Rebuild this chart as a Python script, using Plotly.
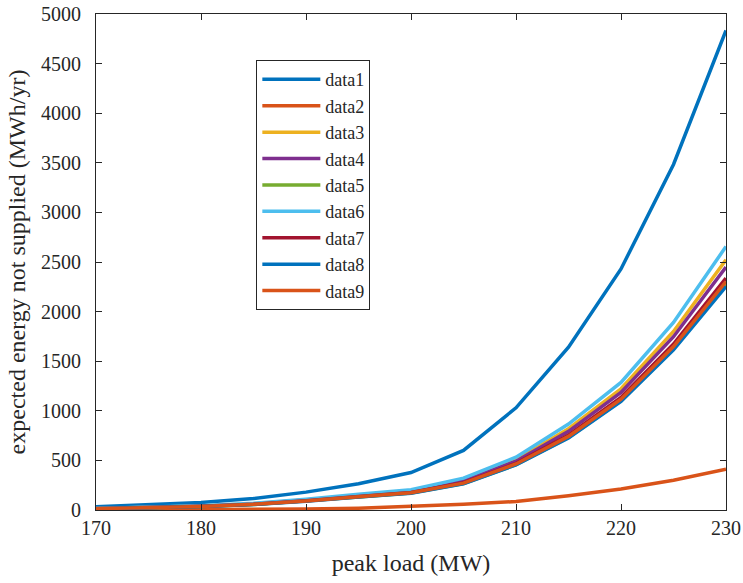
import plotly.graph_objects as go

peak_load = [170, 175, 180, 185, 190, 195, 200, 205, 210, 215, 220, 225, 230]

data1 = [32, 50, 75, 115, 180, 265, 378, 600, 1030, 1642, 2430, 3483, 4834]
data2 = [1, 2, 3, 5, 9, 18, 35, 58, 86, 143, 211, 300, 410]
data3 = [15, 24, 41, 63, 101, 148, 193, 303, 507, 820, 1222, 1800, 2522]
data4 = [14, 23, 39, 61, 98, 143, 187, 292, 492, 793, 1186, 1747, 2448]
data5 = [12, 20, 35, 55, 89, 131, 171, 266, 457, 731, 1102, 1626, 2270]
data6 = [16, 26, 44, 68, 108, 158, 205, 321, 533, 866, 1286, 1890, 2656]
data7 = [13, 22, 37, 58, 92, 136, 177, 276, 471, 755, 1134, 1673, 2337]
data8 = [12, 20, 35, 55, 88, 130, 170, 264, 455, 725, 1094, 1615, 2253]
data9 = [13, 21, 36, 57, 90, 133, 174, 271, 464, 742, 1117, 1648, 2303]

series = [
    ("data1", data1, "#0072BD"),
    ("data2", data2, "#D95319"),
    ("data3", data3, "#EDB120"),
    ("data4", data4, "#7E2F8E"),
    ("data5", data5, "#77AC30"),
    ("data6", data6, "#4DBEEE"),
    ("data7", data7, "#A2142F"),
    ("data8", data8, "#0072BD"),
    ("data9", data9, "#D95319"),
]

fig = go.Figure()
for name, vals, color in series:
    fig.add_trace(go.Scatter(x=peak_load, y=vals, mode="lines", name=name,
                             line=dict(color=color, width=3.5)))

axis_common = dict(showgrid=False, zeroline=False, showline=True, linecolor="#262626",
                   linewidth=1.2, mirror="ticks", ticks="inside", ticklen=6,
                   tickcolor="#262626", tickfont=dict(size=20, color="#262626"),
                   automargin=False, ticklabeloverflow="allow")

fig.update_layout(
    width=743, height=583,
    margin=dict(l=96, r=17, t=14, b=73),
    paper_bgcolor="white", plot_bgcolor="white",
    font=dict(family="Liberation Serif, Times New Roman, serif", color="#262626"),
    xaxis=dict(range=[170, 230], dtick=10,
               title=dict(text="peak load (MW)", font=dict(size=24), standoff=16),
               **axis_common),
    yaxis=dict(range=[0, 5000], dtick=500, ticklabelstandoff=10,
               title=dict(text="expected energy not supplied (MWh/yr)", font=dict(size=24), standoff=8),
               **axis_common),
    legend=dict(x=0.2545, y=0.907, xanchor="left", yanchor="top",
                bordercolor="#262626", borderwidth=1, bgcolor="white",
                font=dict(size=18, color="#262626"), tracegroupgap=0, itemwidth=58),
    showlegend=True,
)

fig.write_html("out.html", config={"displayModeBar": False},
               post_script="document.body.style.margin='0';document.body.style.overflow='hidden';")
